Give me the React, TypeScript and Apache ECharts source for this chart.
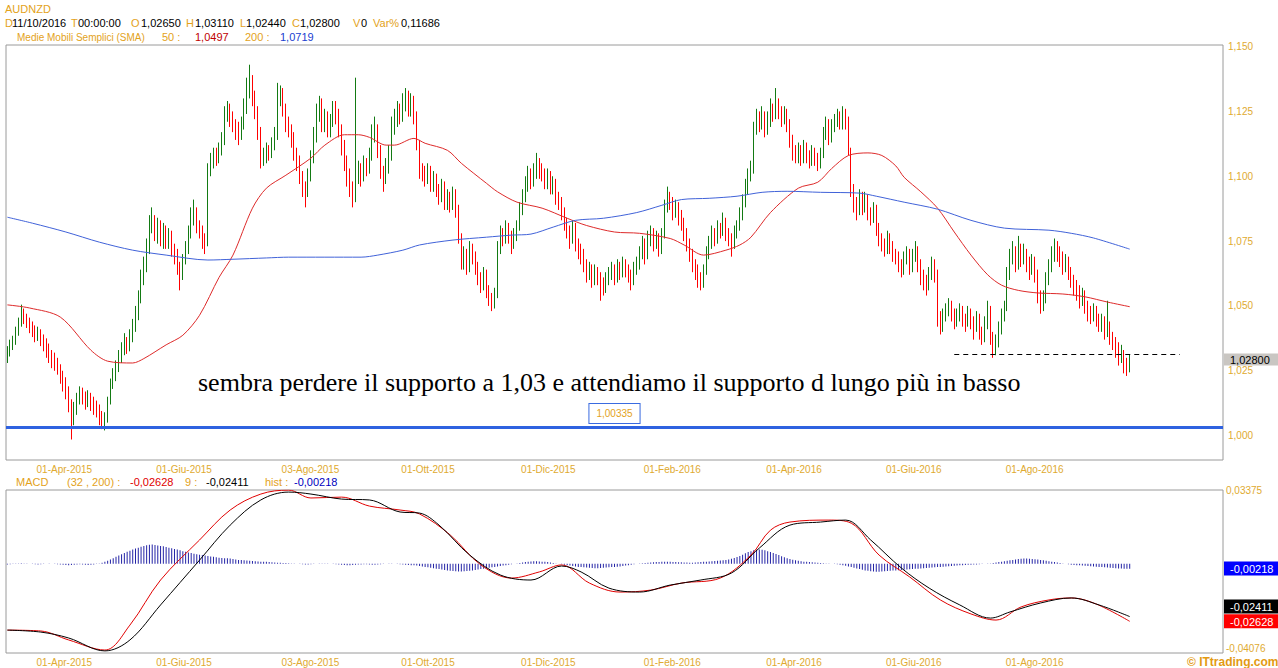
import React, { useEffect, useRef } from "react";
import * as echarts from "echarts";

const FONT = "'Liberation Sans', Arial, sans-serif";
const SERIF = "'Liberation Serif', 'Times New Roman', serif";
const ORANGE = "#E3A21A";
const AXIS_LBL = "#E0AA30";
const GREEN = "#137A13";
const RED = "#FF0000";

const MONTHS_IT = ["Gen", "Feb", "Mar", "Apr", "Mag", "Giu", "Lug", "Ago", "Set", "Ott", "Nov", "Dic"];
const SLOTS = 437; // trading-day slots shown on the time axis (data + empty right margin)
const xTickLabels = [
  "01-Apr-2015", "01-Giu-2015", "03-Ago-2015", "01-Ott-2015", "01-Dic-2015",
  "01-Feb-2016", "01-Apr-2016", "01-Giu-2016", "01-Ago-2016",
];

// Daily AUDNZD candles, in pips above 1.0000: [open, close, low, high]
const ohlcPips = [
  [300,320,280,345],[320,345,305,370],[345,365,330,385],[365,400,350,420],[400,430,385,455],[430,470,420,505],[470,455,430,490],[455,440,415,470],[440,420,395,455],[420,405,380,440],
  [405,385,360,425],[385,395,365,420],[395,370,345,410],[370,350,325,390],[350,330,300,375],[330,305,280,355],[305,290,260,330],[290,280,250,320],[280,260,235,300],[260,230,200,275],
  [230,200,170,250],[200,170,140,225],[170,120,90,190],[120,60,-15,140],[60,100,40,130],[100,140,80,165],[140,160,120,190],[160,150,120,185],[150,130,100,170],[130,145,110,175],
  [145,120,95,165],[120,110,80,150],[110,95,70,135],[95,70,40,120],[70,45,25,95],[45,60,20,90],[60,130,50,150],[130,200,120,220],[200,230,180,260],[230,260,210,290],
  [260,300,245,330],[300,330,280,360],[330,360,310,395],[360,340,315,380],[340,380,325,410],[380,420,360,450],[420,460,400,500],[460,530,445,560],[530,600,510,640],[600,650,580,690],
  [650,720,630,760],[720,800,700,850],[800,830,780,880],[830,780,750,850],[780,810,740,840],[810,760,730,830],[760,790,720,820],[790,750,720,810],[750,770,720,800],[770,720,690,790],
  [720,700,660,740],[700,650,620,720],[650,620,560,670],[620,680,600,700],[680,720,660,750],[720,780,700,810],[780,840,760,880],[840,860,810,910],[860,810,780,880],[810,790,760,830],
  [790,760,720,810],[760,740,700,780],[740,1020,730,1050],[1020,1060,1000,1090],[1060,1080,1030,1110],[1080,1070,1040,1110],[1070,1100,1050,1130],[1100,1130,1080,1170],[1130,1240,1120,1270],[1240,1260,1210,1290],
  [1260,1220,1190,1280],[1220,1200,1170,1250],[1200,1180,1140,1220],[1180,1160,1120,1210],[1160,1200,1140,1230],[1200,1260,1180,1300],[1260,1330,1240,1380],[1330,1360,1300,1430],[1360,1300,1270,1390],[1300,1250,1220,1330],
  [1250,1170,1140,1270],[1170,1060,1030,1190],[1060,1080,1040,1110],[1080,1100,1050,1130],[1100,1090,1060,1120],[1090,1120,1070,1150],[1120,1150,1100,1190],[1150,1300,1140,1360],[1300,1320,1270,1350],[1320,1260,1230,1340],
  [1260,1200,1170,1280],[1200,1180,1150,1230],[1180,1150,1110,1200],[1150,1090,1060,1170],[1090,1060,1020,1110],[1060,1000,970,1080],[1000,960,920,1020],[960,940,880,980],[940,1000,920,1030],[1000,1070,980,1100],
  [1070,1150,1050,1190],[1150,1240,1130,1280],[1240,1280,1210,1310],[1280,1200,1170,1300],[1200,1230,1170,1260],[1230,1180,1150,1250],[1180,1210,1150,1240],[1210,1260,1190,1290],[1260,1240,1200,1290],[1240,1180,1150,1260],
  [1180,1120,1080,1200],[1120,1060,1020,1140],[1060,1000,960,1080],[1000,950,920,1030],[950,930,880,980],[930,1000,900,1380],[1000,1020,970,1060],[1020,1000,960,1050],[1000,1050,980,1080],[1050,1030,1000,1070],
  [1030,1080,1010,1110],[1080,1160,1060,1200],[1160,1180,1130,1230],[1180,1100,1070,1200],[1100,1020,990,1120],[1020,1000,940,1040],[1000,1040,970,1070],[1040,1080,1010,1120],[1080,1180,1060,1230],[1180,1220,1160,1260],
  [1220,1250,1190,1290],[1250,1230,1200,1280],[1230,1280,1210,1320],[1280,1300,1250,1340],[1300,1260,1230,1330],[1260,1290,1230,1320],[1290,1230,1200,1310],[1230,1120,1100,1250],[1120,1020,990,1140],[1020,1010,980,1050],
  [1010,990,960,1040],[990,1020,970,1050],[1020,970,940,1040],[970,990,940,1020],[990,950,920,1010],[950,930,890,970],[930,960,900,990],[960,900,870,980],[900,920,870,950],[920,890,860,940],
  [890,930,870,960],[930,870,840,950],[870,760,740,890],[760,660,640,780],[660,700,640,730],[700,650,620,720],[650,720,630,750],[720,690,660,740],[690,650,620,710],[650,610,580,670],
  [610,580,550,630],[580,620,560,650],[620,560,530,640],[560,530,500,580],[530,510,480,550],[510,540,490,570],[540,720,530,750],[720,780,700,810],[780,760,730,800],[760,800,740,830],
  [800,770,740,820],[770,740,700,790],[740,770,720,800],[770,800,750,830],[800,870,790,900],[870,920,850,950],[920,960,900,1000],[960,1000,940,1040],[1000,980,950,1030],[980,1010,960,1050],
  [1010,1040,990,1090],[1040,1020,990,1070],[1020,1010,980,1050],[1010,980,950,1030],[980,1000,950,1030],[1000,960,930,1020],[960,970,930,1000],[970,920,890,990],[920,900,870,940],[900,860,830,920],
  [860,820,790,880],[820,790,760,840],[790,760,720,810],[760,800,740,830],[800,740,710,820],[740,720,680,760],[720,700,660,740],[700,660,630,720],[660,620,590,680],[620,640,600,670],
  [640,600,570,660],[600,630,580,660],[630,610,580,650],[610,590,520,630],[590,570,540,610],[570,600,550,630],[600,620,580,650],[620,640,600,670],[640,610,580,660],[610,650,590,680],
  [650,630,600,670],[630,660,610,690],[660,640,610,680],[640,620,590,660],[620,600,560,640],[600,640,580,670],[640,660,620,690],[660,700,640,730],[700,740,680,770],[740,690,660,760],
  [690,760,680,790],[760,780,730,810],[780,740,710,800],[740,760,720,790],[760,720,690,780],[720,770,700,800],[770,880,760,910],[880,920,860,960],[920,900,870,940],[900,860,830,920],
  [860,880,840,910],[880,840,810,900],[840,820,790,870],[820,780,750,840],[780,740,710,800],[740,700,670,760],[700,660,630,720],[660,640,600,680],[640,600,570,660],[600,590,560,630],
  [590,640,570,660],[640,700,620,730],[700,740,680,770],[740,780,720,810],[780,760,730,800],[760,800,740,830],[800,790,760,820],[790,820,770,860],[820,780,750,840],[780,760,730,800],
  [760,740,690,780],[740,780,720,810],[780,800,760,830],[800,850,790,880],[850,900,830,930],[900,950,880,990],[950,1000,930,1030],[1000,1020,980,1060],[1020,1180,1010,1210],[1180,1220,1160,1260],
  [1220,1200,1170,1250],[1200,1230,1180,1270],[1230,1180,1150,1250],[1180,1210,1160,1250],[1210,1260,1190,1300],[1260,1240,1210,1280],[1240,1280,1220,1340],[1280,1250,1220,1300],[1250,1220,1190,1270],[1220,1240,1200,1270],
  [1240,1200,1170,1260],[1200,1140,1110,1220],[1140,1100,1060,1160],[1100,1080,1050,1120],[1080,1100,1050,1130],[1100,1070,1040,1120],[1070,1110,1050,1140],[1110,1080,1050,1130],[1080,1060,1030,1100],[1060,1090,1040,1120],
  [1090,1070,1040,1110],[1070,1050,1020,1090],[1050,1080,1030,1110],[1080,1160,1070,1190],[1160,1200,1140,1230],[1200,1150,1120,1220],[1150,1190,1130,1220],[1190,1210,1170,1240],[1210,1230,1190,1260],[1230,1200,1180,1250],
  [1200,1240,1180,1270],[1240,1210,1180,1260],[1210,1100,1080,1230],[1100,950,920,1110],[950,900,860,970],[900,870,830,920],[870,920,850,950],[920,880,850,940],[880,910,860,940],[910,860,830,930],
  [860,840,810,880],[840,880,820,900],[880,800,770,890],[800,760,730,820],[760,740,710,780],[740,720,690,760],[720,760,700,790],[760,730,700,780],[730,700,670,750],[700,690,660,720],
  [690,660,630,710],[660,640,610,680],[640,680,620,710],[680,700,660,730],[700,650,620,720],[650,690,630,720],[690,710,670,750],[710,660,630,730],[660,620,580,680],[620,600,560,640],
  [600,580,540,620],[580,620,560,650],[620,660,600,690],[660,620,590,680],[620,450,420,640],[450,420,390,480],[420,460,400,490],[460,480,440,510],[480,500,460,530],[500,470,440,520],
  [470,440,410,490],[440,460,420,490],[460,480,440,510],[480,450,420,500],[450,440,400,470],[440,470,420,500],[470,440,410,490],[440,420,370,460],[420,450,400,480],[450,400,370,470],
  [400,380,350,420],[380,430,360,460],[430,480,410,520],[480,380,350,500],[380,330,300,400],[330,360,310,390],[360,410,340,440],[410,460,390,490],[460,490,440,520],[490,620,480,650],
  [620,680,600,720],[680,700,660,750],[700,660,630,730],[660,720,640,770],[720,680,650,740],[680,700,660,740],[700,660,630,720],[660,640,600,690],[640,670,620,700],[670,620,590,690],
  [620,540,510,640],[540,500,470,560],[500,530,480,560],[530,600,510,630],[600,650,580,680],[650,690,630,730],[690,720,670,760],[720,700,670,750],[700,690,650,730],[690,650,620,710],
  [650,670,630,700],[670,630,600,690],[630,600,570,650],[600,570,540,620],[570,560,520,600],[560,520,490,580],[520,540,500,570],[540,500,470,560],[500,470,440,520],[470,460,430,500],
  [460,480,440,510],[480,450,420,500],[450,430,400,470],[430,440,400,470],[440,400,370,460],[400,420,380,520],[420,380,350,440],[380,360,330,400],[360,340,300,380],[340,300,270,360],
  [300,320,280,350],[320,270,240,330],[270,265,230,300],[265,280,244,311],
];

// Simple moving averages: [bar index, value]
const sma50 = [
  [0,1.0504],[8,1.0492],[19,1.0457],[30,1.0329],[36,1.0287],[45,1.0280],[49,1.0297],[57,1.0350],[63,1.0387],[69,1.0464],
  [76,1.0610],[81,1.0696],[88,1.0877],[93,1.0954],[100,1.1004],[109,1.1070],[114,1.1120],[121,1.1160],[126,1.1160],[130,1.1150],
  [136,1.1120],[139,1.1120],[146,1.1146],[150,1.1127],[158,1.1100],[163,1.1050],[172,1.0973],[176,1.0940],[183,1.0900],[192,1.0877],
  [201,1.0838],[208,1.0810],[218,1.0785],[227,1.0780],[238,1.0760],[243,1.0735],[250,1.0696],[258,1.0715],[263,1.0735],[267,1.0765],
  [274,1.0860],[284,1.0954],[291,1.0977],[296,1.1030],[302,1.1080],[309,1.1090],[314,1.1080],[319,1.1040],[322,1.0996],[328,1.0940],
  [334,1.0877],[340,1.0785],[346,1.0696],[352,1.0620],[357,1.0580],[363,1.0560],[370,1.0550],[379,1.0546],[387,1.0535],[395,1.0515],[403,1.0497],
];
const sma200 = [
  [0,1.0842],[9,1.0819],[21,1.0785],[33,1.0746],[45,1.0715],[57,1.0696],[72,1.0677],[81,1.0680],[93,1.0685],[101,1.0688],
  [127,1.0688],[133,1.0696],[142,1.0715],[148,1.0735],[160,1.0754],[172,1.0765],[181,1.0773],[188,1.0777],[196,1.0804],[204,1.0830],
  [214,1.0838],[226,1.0860],[235,1.0888],[242,1.0910],[252,1.0915],[262,1.0923],[271,1.0938],[280,1.0942],[292,1.0938],[306,1.0935],
  [312,1.0923],[322,1.0900],[334,1.0873],[346,1.0830],[358,1.0800],[374,1.0792],[382,1.0780],[390,1.0762],[403,1.0719],
];

// MACD (32,200) line, signal (9) line: [bar index, value]
const macdLine = [
  [0,-0.0303],[12,-0.0307],[22,-0.0348],[35,-0.0394],[44,-0.0280],[55,-0.0074],[69,0.0109],[80,0.0246],[91,0.0319],[101,0.0337],
  [109,0.0301],[120,0.0305],[130,0.0264],[141,0.0246],[148,0.0228],[159,0.0132],[170,-0.0005],[181,-0.0065],[191,-0.0037],[199,-0.0005],
  [209,-0.0088],[220,-0.0129],[231,-0.0120],[242,-0.0088],[256,-0.0065],[267,0.0040],[274,0.0154],[281,0.0191],[295,0.0200],[303,0.0186],
  [313,0.0040],[324,-0.0060],[335,-0.0165],[346,-0.0229],[355,-0.0257],[364,-0.0197],[374,-0.0165],[382,-0.0156],[391,-0.0184],[403,-0.02628],
];
const signalLine = [
  [0,-0.0303],[12,-0.0312],[22,-0.0339],[35,-0.0398],[44,-0.0348],[55,-0.0188],[69,0.0017],[80,0.0177],[91,0.0292],[101,0.0328],
  [109,0.0319],[120,0.0296],[130,0.0292],[141,0.0237],[148,0.0232],[155,0.0177],[166,0.0040],[177,-0.0051],[188,-0.0074],[199,-0.0010],
  [206,-0.0037],[216,-0.0111],[227,-0.0129],[238,-0.0097],[249,-0.0074],[260,-0.0042],[270,0.0072],[281,0.0177],[292,0.0191],[301,0.0200],
  [310,0.0109],[321,-0.0019],[331,-0.0111],[342,-0.0188],[353,-0.0248],[360,-0.0220],[371,-0.0179],[382,-0.0156],[392,-0.0188],[403,-0.02411],
];
// Histogram, in units of 0.0001, one per bar
const histE4 = [
  -3,-2,-1,1,2,3,2,1,0,-1, -2,-3,-2,-1,0,1,0,-1,-2,-3, -4,-5,-6,-5,-4,-3,-2,-3,-4,-5, -4,-3,-1,2,5,9,14,20,26,32,
  38,44,50,55,60,65,70,74,78,82, 85,87,88,86,84,82,80,77,74,71, 68,65,62,58,55,52,49,46,44,42, 40,38,36,34,32,30,28,27,26,25,
  24,22,20,18,17,16,15,14,13,12, 11,10,10,9,8,7,6,5,5,4, 4,3,2,1,0,-1,-2,-3,-3,-2, -1,0,1,2,2,1,0,-1,-2,-3,
  -4,-5,-6,-6,-5,-4,-3,-3,-2,-2, -3,-4,-4,-3,-2,-1,0,1,1,0, -1,-2,-3,-4,-5,-6,-7,-8,-10,-12, -14,-16,-18,-20,-22,-24,-26,-28,-30,-32,
  -33,-34,-35,-35,-34,-33,-32,-30,-28,-26, -24,-22,-20,-18,-16,-14,-12,-10,-8,-6, -4,-2,0,2,4,6,8,10,11,12, 12,11,10,9,8,6,4,2,0,-2,
  -4,-6,-8,-10,-12,-14,-15,-16,-17,-18, -19,-20,-20,-19,-18,-17,-16,-15,-14,-13, -12,-10,-8,-6,-4,-2,0,2,3,4, 5,6,7,8,8,9,10,10,9,8,
  8,7,7,6,6,5,5,6,7,8, 9,10,11,12,13,14,15,16,18,20, 23,27,31,36,42,48,54,58,62,64, 65,64,62,58,54,50,45,40,35,30,
  26,22,19,16,14,12,10,9,8,7, 6,5,4,3,2,1,0,-1,-2,-4, -6,-9,-12,-15,-18,-21,-24,-27,-30,-32, -34,-35,-36,-36,-35,-34,-33,-32,-31,-30,
  -29,-28,-27,-26,-25,-24,-23,-22,-21,-20, -19,-18,-17,-16,-15,-14,-13,-12,-11,-10, -9,-8,-7,-6,-5,-4,-4,-3,-3,-2, -1,0,1,2,4,6,8,10,12,14,
  16,18,20,22,23,24,24,23,22,21, 20,18,16,14,12,10,8,6,4,2, 0,-2,-4,-5,-6,-7,-8,-9,-10,-11, -12,-13,-14,-15,-16,-17,-18,-19,-20,-21,
  -21,-22,-22,-22,
];

const LAST_CLOSE = 1.028;
const LONG_SUPPORT = 1.00335;
const SHORT_SUPPORT = 1.0314;
const SHORT_SUPPORT_FROM = 340;
const SHORT_SUPPORT_TO = 421;
const MACD_LAST = -0.02628;
const SIGNAL_LAST = -0.02411;
const HIST_LAST = -0.00218;
const MACD_MIN = -0.04076;
const MACD_MAX = 0.03375;
const PRICE_MIN = 0.9906;
const PRICE_MAX = 1.1506;
const ANNOTATION = "sembra perdere il supporto a 1,03 e attendiamo il supporto d lungo più in basso";

function buildCategories() {
  const cats: string[] = [];
  const d = new Date(Date.UTC(2015, 2, 26));
  while (cats.length < SLOTS) {
    const wd = d.getUTCDay();
    if (wd !== 0 && wd !== 6) {
      const dd = String(d.getUTCDate()).padStart(2, "0");
      cats.push(dd + "-" + MONTHS_IT[d.getUTCMonth()] + "-" + d.getUTCFullYear());
    }
    d.setUTCDate(d.getUTCDate() + 1);
  }
  return cats;
}

function txt(text: string, x: number, y: number, fill: string, extra: any = {}) {
  return {
    type: "text",
    x,
    y,
    silent: true,
    style: { text, fill, fontSize: 11, fontFamily: FONT, verticalAlign: "middle", ...extra },
  };
}

export default function App() {
  const ref = useRef<HTMLDivElement>(null);
  useEffect(() => {
    if (!ref.current) return;
    const chart = echarts.init(ref.current, null, { renderer: "svg" });
    const cats = buildCategories();
    const tickSet = new Set(xTickLabels);
    const candles = ohlcPips.map((r) => r.map((v) => +(1 + v / 10000).toFixed(4)));
    const hist = histE4.map((v) => v / 10000);
    const comma = (v: number, n: number) => v.toFixed(n).replace(".", ",");

    const xAxisBase = (gi: number) => ({
      type: "category",
      gridIndex: gi,
      data: cats,
      boundaryGap: true,
      axisLine: { show: false },
      axisTick: { show: false },
      splitLine: { show: false },
      axisLabel: {
        interval: (i: number, v: string) => tickSet.has(v),
        color: AXIS_LBL,
        fontSize: 10,
        fontFamily: FONT,
        align: "left",
        padding: [0, 0, 0, 18],
        margin: 4,
      },
    });

    // value box at the right end of a horizontal level; `up` lifts the box (spacer height in px)
    const endLabel = (value: number, text: string, bg: string, fg: string, up = 0, pad: number[] = [2, 6, 1, 6]) => ({
      yAxis: value,
      lineStyle: { color: "rgba(0,0,0,0)", width: 0 },
      label: {
        show: true,
        position: "end",
        distance: 1,
        formatter: up ? "{v|" + text + "}\n{s|}" : "{v|" + text + "}",
        rich: {
          v: { backgroundColor: bg, color: fg, fontSize: 11, fontFamily: FONT, padding: pad, width: 42 },
          s: { height: up },
        },
      },
    });

    const option: any = {
      animation: false,
      backgroundColor: "#ffffff",
      textStyle: { fontFamily: FONT },
      grid: [
        { left: 6, right: 55, top: 45, height: 415, show: true, borderColor: "#9a9a9a", borderWidth: 1 },
        { left: 6, right: 55, top: 490, height: 163, show: true, borderColor: "#9a9a9a", borderWidth: 1 },
      ],
      xAxis: [xAxisBase(0), xAxisBase(1)],
      yAxis: [
        {
          type: "value",
          gridIndex: 0,
          position: "right",
          min: PRICE_MIN,
          max: PRICE_MAX,
          minInterval: 0.025,
          maxInterval: 0.025,
          axisLine: { show: false },
          axisTick: { show: false },
          splitLine: { show: false },
          axisLabel: {
            color: AXIS_LBL,
            fontSize: 10,
            margin: 5,
            formatter: (v: number) => (Math.abs(v * 40 - Math.round(v * 40)) < 1e-6 ? comma(v, 3) : ""),
          },
        },
        {
          type: "value",
          gridIndex: 1,
          position: "right",
          min: MACD_MIN,
          max: MACD_MAX,
          interval: +(MACD_MAX - MACD_MIN).toFixed(5),
          axisLine: { show: false },
          axisTick: { show: false },
          splitLine: { show: false },
          axisLabel: {
            color: AXIS_LBL,
            fontSize: 10,
            margin: 3,
            showMinLabel: true,
            showMaxLabel: true,
            verticalAlignMinLabel: "bottom",
            formatter: (v: number) => comma(v, 5),
          },
        },
      ],
      series: [
        {
          name: "AUDNZD",
          type: "candlestick",
          xAxisIndex: 0,
          yAxisIndex: 0,
          data: candles,
          barWidth: 1,
          itemStyle: { color: GREEN, color0: RED, borderColor: GREEN, borderColor0: RED, borderWidth: 1 },
          markLine: {
            silent: true,
            precision: 5,
            symbol: ["none", "none"],
            data: [
              {
                yAxis: LONG_SUPPORT,
                lineStyle: { color: "#2F62E0", width: 3, type: "solid" },
                label: {
                  show: true,
                  position: "middle",
                  formatter: comma(LONG_SUPPORT, 5),
                  color: ORANGE,
                  fontSize: 10,
                  backgroundColor: "#ffffff",
                  borderColor: "#3A6BE0",
                  borderWidth: 1,
                  padding: [5, 7, 4, 7],
                  distance: 4,
                },
              },
              [
                {
                  coord: [cats[SHORT_SUPPORT_FROM], SHORT_SUPPORT],
                  lineStyle: { color: "#000", width: 1, type: [5, 4] },
                  label: { show: false },
                },
                { coord: [cats[SHORT_SUPPORT_TO], SHORT_SUPPORT] },
              ],
              endLabel(LAST_CLOSE, comma(LAST_CLOSE, 5), "#C9C6C2", "#000000", 7, [1, 6, 0, 6]),
            ],
          },
          z: 3,
        },
        {
          name: "SMA50",
          type: "line",
          xAxisIndex: 0,
          yAxisIndex: 0,
          data: sma50,
          showSymbol: false,
          smooth: 0.3,
          lineStyle: { color: "#DD2A2A", width: 1 },
          z: 4,
        },
        {
          name: "SMA200",
          type: "line",
          xAxisIndex: 0,
          yAxisIndex: 0,
          data: sma200,
          showSymbol: false,
          smooth: 0.3,
          lineStyle: { color: "#4062D8", width: 1 },
          z: 4,
        },
        {
          name: "hist",
          type: "bar",
          xAxisIndex: 1,
          yAxisIndex: 1,
          data: hist,
          barWidth: 1,
          itemStyle: { color: "#2424A6" },
          markLine: {
            silent: true,
            precision: 5,
            symbol: ["none", "none"],
            data: [endLabel(HIST_LAST, comma(HIST_LAST, 5), "#0000FF", "#ffffff")],
          },
        },
        {
          name: "MACD",
          type: "line",
          xAxisIndex: 1,
          yAxisIndex: 1,
          data: macdLine,
          showSymbol: false,
          smooth: 0.35,
          lineStyle: { color: "#E00000", width: 1 },
          markLine: {
            silent: true,
            precision: 5,
            symbol: ["none", "none"],
            data: [endLabel(MACD_LAST, comma(MACD_LAST, 5), "#FF0000", "#ffffff")],
          },
        },
        {
          name: "Signal",
          type: "line",
          xAxisIndex: 1,
          yAxisIndex: 1,
          data: signalLine,
          showSymbol: false,
          smooth: 0.35,
          lineStyle: { color: "#000000", width: 1 },
          markLine: {
            silent: true,
            precision: 5,
            symbol: ["none", "none"],
            data: [endLabel(SIGNAL_LAST, comma(SIGNAL_LAST, 5), "#000000", "#ffffff", 20)],
          },
        },
      ],
      graphic: [
        txt("AUDNZD", 5, 9, ORANGE),
        txt("D", 5, 23, ORANGE),
        txt("11/10/2016", 12, 23, "#000"),
        txt("T", 71, 23, ORANGE),
        txt("00:00:00", 78, 23, "#000"),
        txt("O", 131, 23, ORANGE),
        txt("1,02650", 141, 23, "#000"),
        txt("H", 186, 23, ORANGE),
        txt("1,03110", 195, 23, "#000"),
        txt("L", 240, 23, ORANGE),
        txt("1,02440", 246, 23, "#000"),
        txt("C", 292, 23, ORANGE),
        txt("1,02800", 300, 23, "#000"),
        txt("V", 353, 23, ORANGE),
        txt("0", 361, 23, "#000"),
        txt("Var%", 373, 23, ORANGE),
        txt("0,11686", 401, 23, "#000"),
        txt("Medie Mobili Semplici (SMA)", 17, 37, ORANGE, { fontSize: 10 }),
        txt("50 :", 162, 37, ORANGE),
        txt("1,0497", 195, 37, "#C00000"),
        txt("200 :", 245, 37, ORANGE),
        txt("1,0719", 280, 37, "#2040D0"),
        txt("MACD", 16, 482, ORANGE),
        txt("(32 , 200) :", 67, 482, ORANGE),
        txt("-0,02628", 130, 482, "#E00000"),
        txt("9 :", 185, 482, ORANGE),
        txt("-0,02411", 206, 482, "#000"),
        txt("hist :", 265, 482, ORANGE),
        txt("-0,00218", 294, 482, "#0000C0"),
        txt(ANNOTATION, 198, 382, "#000", { fontSize: 26, fontFamily: SERIF }),
        txt("© ITtrading.com", 1187, 662, "#E39A12", { fontSize: 12, fontWeight: "bold" }),
      ],
    };
    chart.setOption(option);
    return () => chart.dispose();
  }, []);
  return (
    <div
      ref={ref}
      style={{ position: "absolute", left: 0, top: 0, width: 1278, height: 668, background: "#fff" }}
    />
  );
}
